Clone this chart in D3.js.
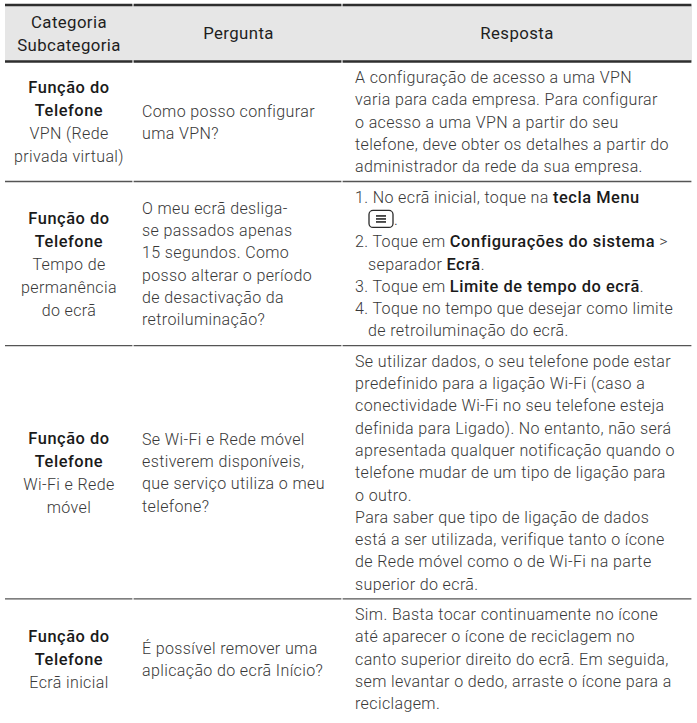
<!DOCTYPE html>
<html><head><meta charset="utf-8">
<script src="https://cdn.jsdelivr.net/npm/d3@7"></script>
<style>
body{margin:0;background:#fff;}
svg text{font-family:Roboto,"Liberation Sans",Arial,sans-serif;}
</style></head><body>
<svg id="c" width="697" height="723"></svg>
<script>
// ---- data ----
const headers = [["Categoria","Subcategoria"],["Pergunta"],["Resposta"]];
const categories = [["Função do","Telefone"],["Função do","Telefone"],["Função do","Telefone"],["Função do","Telefone"]];
const subcategories = [["VPN (Rede","privada virtual)"],["Tempo de","permanência","do ecrã"],["Wi-Fi e Rede","móvel"],["Ecrã inicial"]];
const questions = [
  ["Como posso configurar","uma VPN?"],
  ["O meu ecrã desliga-","se passados apenas","15 segundos. Como","posso alterar o período","de desactivação da","retroiluminação?"],
  ["Se Wi-Fi e Rede móvel","estiverem disponíveis,","que serviço utiliza o meu","telefone?"],
  ["É possível remover uma","aplicação do ecrã Início?"]
];
const answers = [
  ["A configuração de acesso a uma VPN","varia para cada empresa. Para configurar","o acesso a uma VPN a partir do seu","telefone, deve obter os detalhes a partir do","administrador da rede da sua empresa."],
  ["1. No ecrã inicial, toque na **tecla Menu**","  {menu}.","2. Toque em **Configurações do sistema** >","  separador **Ecrã**.","3. Toque em **Limite de tempo do ecrã**.","4. Toque no tempo que desejar como limite","  de retroiluminação do ecrã."],
  ["Se utilizar dados, o seu telefone pode estar","predefinido para a ligação Wi-Fi (caso a","conectividade Wi-Fi no seu telefone esteja","definida para Ligado). No entanto, não será","apresentada qualquer notificação quando o","telefone mudar de um tipo de ligação para","o outro.","Para saber que tipo de ligação de dados","está a ser utilizada, verifique tanto o ícone","de Rede móvel como o de Wi-Fi na parte","superior do ecrã."],
  ["Sim. Basta tocar continuamente no ícone","até aparecer o ícone de reciclagem no","canto superior direito do ecrã. Em seguida,","sem levantar o dedo, arraste o ícone para a","reciclagem."]
];

// ---- layout ----
const svg = d3.select("#c");
const colEdges = [5, 133, 342, 692];
const FS = 16, LH = 22.3, PAD = 8, LS = 0.38;
const headTop = 5, headBot = 61.5;
const lightCol = "#383838", boldCol = "#1a1a1a";

const rows = categories.map((c, i) => ({
  cat: c, sub: subcategories[i], q: questions[i], a: answers[i],
  n: Math.max(c.length + subcategories[i].length, questions[i].length, answers[i].length)
}));
let yAcc = headBot + 0.5;
rows.forEach(r => { r.y0 = yAcc; r.h = r.n * LH + PAD; yAcc += r.h; r.y1 = yAcc; r.cy = (r.y0 + r.y1) / 2; });

const x = d3.scaleOrdinal().domain([0,1,2]).range([69, 142, 355]);

// header background
svg.append("rect").attr("x", colEdges[0]).attr("y", headTop).attr("width", colEdges[3]-colEdges[0])
  .attr("height", headBot-headTop).attr("fill", "#e6e6e6");
// header lines (segmented per column)
[headTop, headBot].forEach(yy => {
  for (let k = 0; k < 3; k++) {
    svg.append("line").attr("x1", colEdges[k] + (k ? 0.6 : 0)).attr("x2", colEdges[k+1] - 0.6)
      .attr("y1", yy).attr("y2", yy).attr("stroke", "#2e2e2e").attr("stroke-width", 2.6);
  }
});
// header text
const headCx = [69, (colEdges[1]+colEdges[2])/2 + 1, (colEdges[2]+colEdges[3])/2];
headers.forEach((h, k) => {
  const cy = (headTop + headBot) / 2;
  h.forEach((t, j) => {
    svg.append("text").attr("x", headCx[k]).attr("y", cy + (j - (h.length-1)/2) * 23)
      .attr("text-anchor", "middle").attr("dominant-baseline", "central")
      .attr("font-size", 16.8).attr("letter-spacing", 0.4).attr("font-weight", 400).attr("fill", "#1e1e1e").text(t);
  });
});

// row separators
rows.forEach((r, i) => {
  if (i === rows.length - 1) return;
  for (let k = 0; k < 3; k++) {
    svg.append("line").attr("x1", colEdges[k] + (k ? 0.6 : 0)).attr("x2", colEdges[k+1] - 0.6)
      .attr("y1", r.y1).attr("y2", r.y1).attr("stroke", "#555").attr("stroke-width", 1.4);
  }
});

function addLine(g, xx, yy, str, anchor, weight) {
  const t = g.append("text").attr("x", xx).attr("y", yy).attr("dominant-baseline", "central")
    .attr("text-anchor", anchor).attr("font-size", FS).attr("letter-spacing", LS);
  const parts = str.split("**");
  parts.forEach((p, j) => {
    if (!p) return;
    const b = j % 2 === 1 || weight === "bold";
    const sp = t.append("tspan").attr("font-weight", b ? 500 : 300).attr("fill", b ? boldCol : lightCol).text(p);
    if (b) sp.attr("font-size", 16.4).attr("letter-spacing", 0.55);
  });
  return t;
}

rows.forEach(r => {
  const g = svg.append("g");
  // column 1: category (bold) + subcategory
  const c1 = r.cat.map(t => ({t, b: true})).concat(r.sub.map(t => ({t, b: false})));
  const lh1 = 23;
  c1.forEach((d, j) => {
    addLine(g, x(0), r.cy + (j - (c1.length-1)/2) * lh1, d.t, "middle", d.b ? "bold" : "light");
  });
  // column 2: question
  r.q.forEach((t, j) => addLine(g, x(1), r.cy + (j - (r.q.length-1)/2) * LH, t, "start", "light"));
  // column 3: answer
  r.a.forEach((t, j) => {
    const yy = r.cy + (j - (r.a.length-1)/2) * LH;
    let xx = x(2);
    let s = t;
    if (s.startsWith("  ")) { xx += 13; s = s.slice(2); }
    if (s.startsWith("{menu}")) {
      const w = 24, h = 17;
      g.append("rect").attr("x", xx + 1).attr("y", yy - h/2).attr("width", w).attr("height", h)
        .attr("rx", 4).attr("fill", "none").attr("stroke", "#2a2a2a").attr("stroke-width", 1.3);
      [-3, 0, 3].forEach(dy => g.append("line").attr("x1", xx + 1 + w/2 - 5).attr("x2", xx + 1 + w/2 + 5)
        .attr("y1", yy + dy).attr("y2", yy + dy).attr("stroke", "#1a1a1a").attr("stroke-width", 1.5));
      xx += w + 2; s = s.slice(6);
    }
    addLine(g, xx, yy, s, "start", "light");
  });
});
</script>
</body></html>
